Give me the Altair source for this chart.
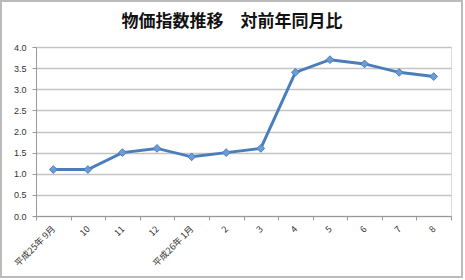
import altair as alt
import pandas as pd

# Month labels on the category axis and year-on-year CPI change (%)
months = ["平成25年 9月", "10", "11", "12", "平成26年 1月", "2", "3", "4", "5", "6", "7", "8"]
values = [1.1, 1.1, 1.5, 1.6, 1.4, 1.5, 1.6, 3.4, 3.7, 3.6, 3.4, 3.3]
title_text = "物価指数推移　対前年同月比"

df = pd.DataFrame({"month": months, "value": values})

x = alt.X(
    "month:N",
    sort=months,
    title=None,
    scale=alt.Scale(paddingInner=0, paddingOuter=0),
    axis=alt.Axis(
        labelAngle=-45,
        labelAlign="right",
        labelBaseline="middle",
        labelFontSize=9,
        labelColor="#333333",
        labelFont="Noto Sans CJK JP",
        labelPadding=7,
        tickBand="extent",
        tickSize=4,
        tickColor="#999999",
        domainColor="#999999",
        grid=False,
    ),
)
y = alt.Y(
    "value:Q",
    title=None,
    scale=alt.Scale(domain=[0, 4]),
    axis=alt.Axis(
        values=[0, 0.5, 1, 1.5, 2, 2.5, 3, 3.5, 4],
        format=".1f",
        labelFontSize=9,
        labelColor="#333333",
        labelFont="Liberation Sans",
        labelPadding=6,
        tickSize=4,
        tickColor="#999999",
        domainColor="#999999",
        gridColor="#c4c4c4",
        gridWidth=1.5,
    ),
)

base = alt.Chart(df)
line = base.mark_line(color="#4a7ebb", strokeWidth=3).encode(x=x, y=y)
points = base.mark_point(
    shape="diamond", filled=True, size=60, fill="#6b9bd8", stroke="#4a7ebb", strokeWidth=1, opacity=1
).encode(x=x, y=y)

single = alt.Data(values=[{"t": title_text}])

# Chart frame around the whole figure
frame = alt.Chart(single).mark_rect(
    filled=False, stroke="#bbbbbb", strokeWidth=2, clip=False
).encode(
    x=alt.value(-35), x2=alt.value(426), y=alt.value(-46), y2=alt.value(230)
)

# Chart title, centred over the figure
title = alt.Chart(single).mark_text(
    font="Noto Sans CJK JP",
    fontSize=17,
    fontWeight="bold",
    color="#111111",
    align="center",
    baseline="alphabetic",
).encode(x=alt.value(196), y=alt.value(-20), text="t:N")

chart = (
    alt.layer(frame, line, points, title)
    .properties(
        width=415,
        height=169,
        autosize=alt.AutoSizeParams(type="none"),
        padding={"left": 36, "top": 47, "right": 14, "bottom": 64},
    )
    .configure_view(stroke=None)
    .configure(background="white")
)

chart.save("out.html", embed_options={"renderer": "svg", "actions": False})
